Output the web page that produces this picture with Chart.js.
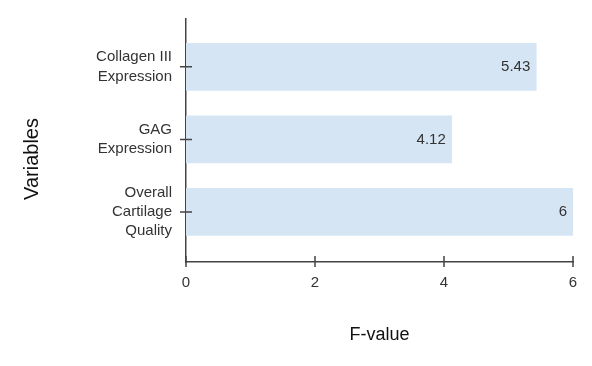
<!DOCTYPE html>
<html>
<head>
<meta charset="utf-8">
<script src="https://cdn.jsdelivr.net/npm/chart.js@4/dist/chart.umd.min.js"></script>
<style>
  html, body { margin: 0; padding: 0; background: #fff; }
  #wrap { width: 592px; height: 366px; }
</style>
</head>
<body>
<div id="wrap"><canvas id="grafico" width="592" height="366"></canvas></div>
<script>
const variaveis = [
  ["Collagen III", "Expression"],
  ["GAG", "Expression"],
  ["Overall", "Cartilage", "Quality"]
];
const fValores = [5.43, 4.12, 6];
const rotulosValor = ["5.43", "4.12", "6"];
const ticksX = [0, 2, 4, 6];

const fonte = "'Liberation Sans', Arial, sans-serif";
const corBarra = "rgb(213,229,244)";
const corEixo = "#444";

// marcas que cruzam o eixo, valores nas barras e títulos dos eixos
const extras = {
  id: "extras",
  afterDraw(chart) {
    const ctx = chart.ctx;
    const sx = chart.scales.x, sy = chart.scales.y;
    const area = chart.chartArea;
    ctx.save();
    ctx.strokeStyle = corEixo;
    ctx.lineWidth = 1.5;
    ctx.beginPath();
    ticksX.forEach(v => {
      const px = sx.getPixelForValue(v);
      ctx.moveTo(px, area.bottom - 6);
      ctx.lineTo(px, area.bottom + 5);
    });
    variaveis.forEach((_, i) => {
      const py = sy.getPixelForValue(i);
      ctx.moveTo(area.left - 6, py);
      ctx.lineTo(area.left + 6, py);
    });
    ctx.stroke();

    ctx.fillStyle = "#333";
    ctx.font = "15px " + fonte;
    ctx.textAlign = "right";
    ctx.textBaseline = "middle";
    chart.getDatasetMeta(0).data.forEach((bar, i) => {
      ctx.fillText(rotulosValor[i], bar.x - 6, bar.y);
    });

    ctx.fillStyle = "#111";
    ctx.font = "18px " + fonte;
    ctx.textAlign = "center";
    ctx.fillText("F-value", (area.left + area.right) / 2, 335);
    ctx.font = "20px " + fonte;
    ctx.translate(32, 159);
    ctx.rotate(-Math.PI / 2);
    ctx.fillText("Variables", 0, 0);
    ctx.restore();
  }
};

new Chart(document.getElementById("grafico"), {
  type: "bar",
  data: {
    datasets: [{
      data: fValores.map((v, i) => ({ x: v, y: i })),
      backgroundColor: corBarra,
      borderWidth: 0,
      barThickness: 47
    }]
  },
  options: {
    indexAxis: "y",
    responsive: false,
    animation: false,
    devicePixelRatio: 1,
    layout: { padding: { top: 19, right: 19, left: 0, bottom: 0 } },
    plugins: { legend: { display: false }, tooltip: { enabled: false } },
    scales: {
      x: {
        type: "linear",
        min: 0,
        max: 6,
        z: 1,
        afterFit: s => { s.height = 104; s.paddingLeft = 0; s.paddingRight = 0; },
        afterBuildTicks: s => { s.ticks = ticksX.map(v => ({ value: v })); },
        grid: { display: false, drawTicks: false },
        border: { display: true, color: corEixo, width: 1.5 },
        ticks: { color: "#333", padding: 12, font: { family: fonte, size: 15 } }
      },
      y: {
        type: "linear",
        reverse: true,
        offset: false,
        min: -0.66,
        max: 2.69,
        z: 1,
        afterFit: s => { s.width = 186; s.paddingTop = 0; s.paddingBottom = 0; },
        afterBuildTicks: s => { s.ticks = variaveis.map((_, i) => ({ value: i })); },
        grid: { display: false, drawTicks: false, offset: false },
        border: { display: true, color: corEixo, width: 1.5 },
        ticks: {
          color: "#333",
          padding: 14,
          font: { family: fonte, size: 15, lineHeight: 1.27 },
          callback: v => variaveis[v]
        }
      }
    }
  },
  plugins: [extras]
});
</script>
</body>
</html>
